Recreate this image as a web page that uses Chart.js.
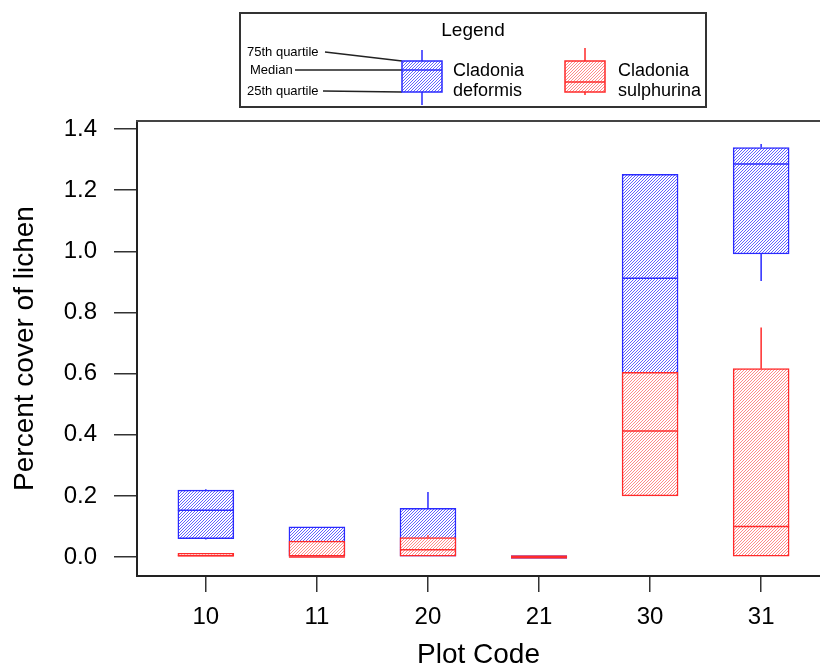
<!DOCTYPE html>
<html>
<head>
<meta charset="utf-8">
<script src="https://cdn.jsdelivr.net/npm/chart.js@4"></script>
<style>
  html, body { margin: 0; padding: 0; background: #fff; }
  #wrap { width: 820px; height: 669px; }
</style>
</head>
<body>
<div id="wrap"><canvas id="boxChart" width="820" height="669"></canvas></div>
<script>
const plotCodes = ["10", "11", "20", "21", "30", "31"];
const yTicks = [0, 0.2, 0.4, 0.6, 0.8, 1.0, 1.2, 1.4];

// Cladonia deformis (blue)
const defLow = [0.057, 0, 0, 0, 0.5, 0.903];
const defQ1 = [0.06, 0, 0, 0, 0.5, 0.991];
const defMedian = [0.153, 0.02, 0.03, 0, 0.912, 1.285];
const defQ3 = [0.219, 0.099, 0.159, 0, 1.252, 1.339];
const defHigh = [0.222, 0.099, 0.213, 0, 1.252, 1.351];

// Cladonia sulphurina (red)
const sulLow = [0, 0, 0, 0, 0.2, 0];
const sulQ1 = [0, 0, 0, 0, 0.2, 0];
const sulMedian = [0.004, 0, 0.024, 0, 0.412, 0.1];
const sulQ3 = [0.012, 0.052, 0.064, 0, 0.604, 0.616];
const sulHigh = [0.012, 0.052, 0.071, 0, 0.604, 0.751];

const BLUE = "#2a2aff";
const RED = "#ff2a2a";
const FONT = "Arial, 'Liberation Sans', sans-serif";

// fine diagonal hatch, opaque so the red box hides the blue one
function hatch(color) {
  const c = document.createElement("canvas");
  c.width = 3;
  c.height = 3;
  const g = c.getContext("2d");
  g.fillStyle = "#fff";
  g.fillRect(0, 0, 3, 3);
  g.fillStyle = color;
  for (let x = 0; x < 3; x++) {
    for (let y = 0; y < 3; y++) {
      if ((x + y) % 3 === 0) g.fillRect(x, y, 1, 1);
    }
  }
  return g.createPattern(c, "repeat");
}

const blueFill = hatch("#6464ff");
const redFill = hatch("#ff8a8a");

// medians + whiskers, drawn right after each box dataset
const boxExtras = {
  id: "boxExtras",
  afterDatasetDraw(chart, args) {
    const ds = chart.data.datasets[args.index];
    const x = chart.scales.x;
    const y = chart.scales.y;
    const half = ds.barThickness / 2;
    const c = chart.ctx;
    c.save();
    c.strokeStyle = ds.borderColor;
    ds.medians.forEach((m, i) => {
      const cx = x.getPixelForValue(i);
      const py = y.getPixelForValue(m);
      const [q1, q3] = ds.data[i].y;
      // collapsed box (all zero) shows as a thicker bar
      c.lineWidth = q1 === q3 ? 3 : 1.5;
      c.beginPath();
      c.moveTo(cx - half, py);
      c.lineTo(cx + half, py);
      c.stroke();
      c.lineWidth = 1.5;
      c.beginPath();
      c.moveTo(cx, y.getPixelForValue(q3));
      c.lineTo(cx, y.getPixelForValue(ds.highs[i]));
      c.moveTo(cx, y.getPixelForValue(q1));
      c.lineTo(cx, y.getPixelForValue(ds.lows[i]));
      c.stroke();
    });
    c.restore();
  },
};

function legendSample(c, left, right, top, bottom, med, wTop, wBot, color, fill) {
  const cx = (left + right) / 2;
  c.strokeStyle = color;
  c.lineWidth = 1.5;
  c.beginPath();
  c.moveTo(cx, wTop);
  c.lineTo(cx, top);
  c.moveTo(cx, bottom);
  c.lineTo(cx, wBot);
  c.stroke();
  c.fillStyle = fill;
  c.fillRect(left, top, right - left, bottom - top);
  c.strokeRect(left, top, right - left, bottom - top);
  c.beginPath();
  c.moveTo(left, med);
  c.lineTo(right, med);
  c.stroke();
}

const legendBox = {
  id: "legendBox",
  afterDraw(chart) {
    const c = chart.ctx;
    const area = chart.chartArea;
    c.save();

    // top frame line
    c.strokeStyle = "#444";
    c.lineWidth = 2;
    c.beginPath();
    c.moveTo(area.left - 1, area.top);
    c.lineTo(chart.width, area.top);
    c.stroke();

    // legend frame
    c.strokeStyle = "#333";
    c.strokeRect(240, 13, 466, 94);

    c.fillStyle = "#000";
    c.textBaseline = "alphabetic";
    c.textAlign = "center";
    c.font = "19px " + FONT;
    c.fillText("Legend", 473, 36);

    c.textAlign = "left";
    c.textBaseline = "middle";
    c.font = "13px " + FONT;
    c.fillText("75th quartile", 247, 52);
    c.fillText("Median", 250, 70);
    c.fillText("25th quartile", 247, 91);

    c.strokeStyle = "#222";
    c.lineWidth = 1.3;
    c.beginPath();
    c.moveTo(325, 52);
    c.lineTo(402, 61);
    c.moveTo(295, 70);
    c.lineTo(402, 70);
    c.moveTo(323, 91);
    c.lineTo(402, 92);
    c.stroke();

    legendSample(c, 402, 442, 61, 92, 70, 50, 105, BLUE, blueFill);
    legendSample(c, 565, 605, 61, 92, 82, 48, 95, RED, redFill);

    c.fillStyle = "#000";
    c.font = "18px " + FONT;
    c.fillText("Cladonia", 453, 71);
    c.fillText("deformis", 453, 91);
    c.fillText("Cladonia", 618, 71);
    c.fillText("sulphurina", 618, 91);
    c.restore();
  },
};

function boxData(q1, q3) {
  return plotCodes.map((code, i) => ({ x: i, y: [q1[i], q3[i]] }));
}

new Chart(document.getElementById("boxChart"), {
  type: "bar",
  data: {
    datasets: [
      {
        label: "Cladonia sulphurina",
        data: boxData(sulQ1, sulQ3),
        medians: sulMedian,
        lows: sulLow,
        highs: sulHigh,
        backgroundColor: redFill,
        borderColor: RED,
        borderWidth: 1.5,
        borderSkipped: false,
        barThickness: 56,
        grouped: false,
        order: 0,
      },
      {
        label: "Cladonia deformis",
        data: boxData(defQ1, defQ3),
        medians: defMedian,
        lows: defLow,
        highs: defHigh,
        backgroundColor: blueFill,
        borderColor: BLUE,
        borderWidth: 1.5,
        borderSkipped: false,
        barThickness: 56,
        grouped: false,
        order: 1,
      },
    ],
  },
  options: {
    responsive: false,
    animation: false,
    devicePixelRatio: 1,
    layout: { padding: { top: 121, left: 0, right: 0, bottom: 0 } },
    plugins: {
      legend: { display: false },
      tooltip: { enabled: false },
    },
    scales: {
      x: {
        type: "linear",
        offset: false,
        min: -0.62,
        max: 5.53,
        afterBuildTicks: (s) => {
          s.ticks = plotCodes.map((code, i) => ({ value: i }));
        },
        afterFit: (s) => {
          s.height = 93;
        },
        ticks: {
          callback: (v) => plotCodes[v],
          color: "#000",
          font: { family: FONT, size: 24 },
          padding: 11,
          maxRotation: 0,
        },
        grid: {
          offset: false,
          drawOnChartArea: false,
          drawTicks: true,
          tickLength: 16,
          color: "#333",
          lineWidth: 1.5,
        },
        border: { display: true, color: "#222", width: 2 },
        title: {
          display: true,
          text: "Plot Code",
          color: "#000",
          font: { family: FONT, size: 28, lineHeight: 1 },
          padding: 0,
        },
      },
      y: {
        min: -0.062,
        max: 1.426,
        afterBuildTicks: (s) => {
          s.ticks = yTicks.map((v) => ({ value: v }));
        },
        afterFit: (s) => {
          s.width = 137;
        },
        ticks: {
          callback: (v) => v.toFixed(1),
          color: "#000",
          font: { family: FONT, size: 24 },
          padding: 17,
        },
        grid: {
          drawOnChartArea: false,
          drawTicks: true,
          tickLength: 23,
          color: "#333",
          lineWidth: 1.5,
        },
        border: { display: true, color: "#222", width: 2 },
        title: {
          display: true,
          text: "Percent cover of lichen",
          color: "#000",
          font: { family: FONT, size: 28, lineHeight: 1.2 },
          padding: { top: 8, bottom: 0 },
        },
      },
    },
  },
  plugins: [boxExtras, legendBox],
});
</script>
</body>
</html>
